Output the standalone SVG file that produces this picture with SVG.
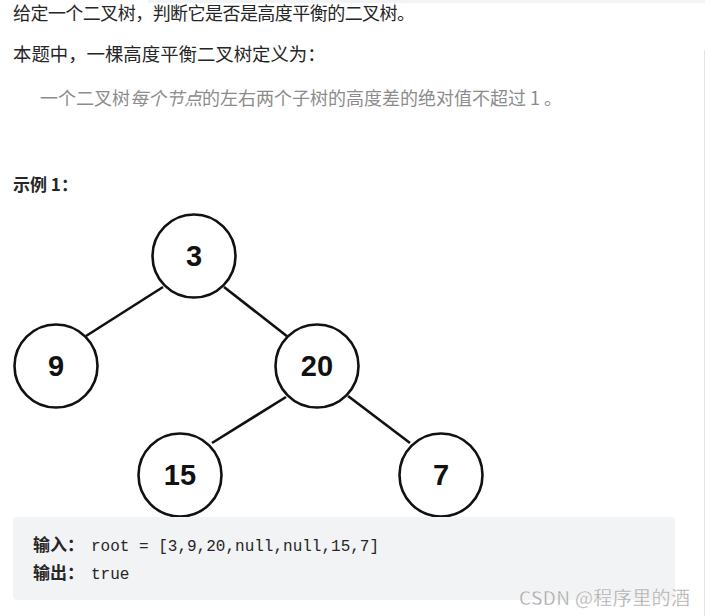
<svg xmlns="http://www.w3.org/2000/svg" width="705" height="616" viewBox="0 0 705 616">
<style>
.t{font-family:"Noto Sans CJK SC","Liberation Sans",sans-serif;font-size:18px;fill:#262626}
.g{fill:#8c8c8c}
.node circle{fill:#fff;stroke:#111;stroke-width:2.6}
.node text{font-family:"Liberation Sans",Arial,sans-serif;font-weight:bold;font-size:29px;fill:#111;text-anchor:middle}
.edges line{stroke:#111;stroke-width:2.6}
.code{font-family:"Liberation Mono","Noto Sans CJK SC",monospace;font-size:16px;fill:#262626}
.cj{font-family:"Noto Sans CJK SC",sans-serif;font-weight:bold;font-size:17px}
</style>
<rect width="705" height="616" fill="#fff"/>
<rect x="148" y="0" width="557" height="3" fill="#f2f3f5"/>
<line x1="704.5" y1="50" x2="704.5" y2="616" stroke="#e3e4e6" stroke-width="1"/>
<text class="t" x="13" y="20" textLength="402">给定一个二叉树，判断它是否是高度平衡的二叉树。</text>
<text class="t" x="13" y="61" style="font-size:18.4px">本题中，一棵高度平衡二叉树定义为：</text>
<text class="t g" x="40" y="105">一个二叉树<tspan font-style="italic">每个节点</tspan>的左右两个子树的高度差的绝对值不超过 1 。</text>
<text class="t" x="13" y="191" style="font-size:17px;font-weight:bold">示例 1：</text>
<g class="edges">
<line x1="163" y1="287" x2="86" y2="336"/>
<line x1="224" y1="287" x2="288" y2="337"/>
<line x1="286" y1="397" x2="212" y2="443"/>
<line x1="348" y1="396" x2="410" y2="443"/>
</g>
<g id="n3" class="node"><circle cx="194" cy="256" r="41.5"/><text x="194" y="266">3</text></g>
<g id="n9" class="node"><circle cx="56" cy="366" r="41.5"/><text x="56" y="376">9</text></g>
<g id="n20" class="node"><circle cx="317" cy="366" r="41.5"/><text x="317" y="376">20</text></g>
<g id="n15" class="node"><circle cx="180" cy="475" r="41.5"/><text x="180" y="485">15</text></g>
<g id="n7" class="node"><circle cx="441" cy="475" r="41.5"/><text x="441" y="485">7</text></g>
<rect x="13" y="517" width="662" height="83" rx="4" fill="#f2f3f5"/>
<text class="code" x="33" y="551"><tspan class="cj">输入：</tspan><tspan x="91">root = [3,9,20,null,null,15,7]</tspan></text>
<text class="code" x="33" y="579"><tspan class="cj">输出：</tspan><tspan x="91">true</tspan></text>
<text x="519" y="605" textLength="171" style="font-family:'Noto Sans CJK SC','Liberation Sans',sans-serif;font-size:19px;fill:#a6a6a6;stroke:#fff;stroke-width:0.3">CSDN @程序里的酒</text>
</svg>
